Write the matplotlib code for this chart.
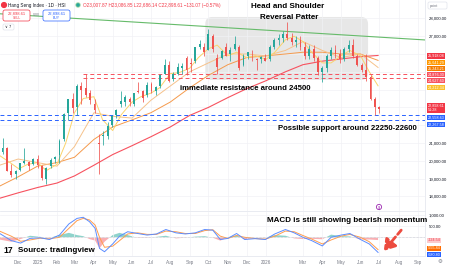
import matplotlib
matplotlib.use("Agg")
import matplotlib.pyplot as plt
import matplotlib.dates as mdates
import matplotlib.transforms as mtransforms
from matplotlib.patches import FancyBboxPatch, FancyArrowPatch
import numpy as np
import pandas as pd

plt.rcParams["font.family"] = ["Liberation Sans", "DejaVu Sans"]

# ---- weekly candles (Hang Seng Index) ----
OPEN = [20600, 20500, 20700, 19450, 19250, 19500, 19900, 19950, 19800, 20100,
        19700, 19000, 19700, 20100, 20300, 21200, 22700, 23500, 23000, 24200,
        24100, 23800, 23200, 21000, 21400, 21400, 22000, 22600, 23200, 23300,
        23500, 23200, 23900, 23900, 23700, 24300, 23900, 24200, 24900, 25400,
        24600, 24900, 25200, 25800, 25500, 25600, 26400, 26400, 26200, 27000,
        25800, 25800, 26400, 26000, 26300, 26400, 25400, 25900, 26000, 25700,
        25700, 25800, 25700, 26400, 26800, 26900, 27100, 26900, 26700, 26800,
        26400, 25900, 26300, 25800, 25000, 25200, 25900, 26200, 26000, 25700,
        26300, 26500, 25900, 25400, 25100, 24700, 23500, 23008]
HIGH = [20800, 21300, 20750, 19800, 19500, 19900, 20700, 20000, 20150, 20300,
        19750, 19650, 20150, 20250, 21200, 22700, 23500, 23800, 24300, 24400,
        24870, 24000, 23500, 21500, 21700, 22200, 22600, 22900, 23900, 23700,
        23600, 23800, 24400, 24000, 24400, 24400, 24200, 24900, 25700, 25600,
        25000, 25500, 25500, 25900, 25800, 26400, 26800, 26600, 27380, 27100,
        26000, 26200, 26600, 26400, 27000, 26500, 26000, 26100, 26200, 25800,
        25900, 26000, 26500, 26900, 27100, 27300, 27800, 27200, 27000, 27000,
        26700, 26500, 26500, 25900, 25300, 26000, 26400, 26500, 26300, 26400,
        26800, 26850, 26000, 25500, 26000, 24800, 23600, 23087]
LOW = [20200, 20400, 19400, 19100, 18990, 19400, 19800, 19500, 19750, 19600,
       18900, 18670, 19600, 19900, 19900, 21100, 22300, 22700, 22600, 23200,
       23600, 23200, 22700, 19260, 20900, 21200, 21900, 22400, 23000, 23100,
       23100, 23100, 23800, 23300, 23600, 23800, 23700, 24100, 24900, 24400,
       24500, 24800, 24900, 24800, 25000, 25500, 26300, 25900, 26200, 26100,
       24900, 25700, 25900, 25600, 26200, 25100, 25300, 25700, 25600, 25100,
       25500, 25600, 25600, 26300, 26500, 26700, 26800, 26500, 26400, 26200,
       25700, 25700, 25600, 24800, 24400, 25000, 25700, 25800, 25500, 25600,
       26100, 25800, 25300, 25000, 24500, 23400, 22600, 22686]
CLOSE = [20500, 20730, 19430, 19230, 19420, 19870, 19970, 19720, 20090, 19760,
         19060, 19580, 20070, 20220, 21130, 22620, 23480, 22940, 24230, 23960,
         23690, 23430, 22850, 20920, 21400, 21980, 22500, 22870, 23350, 23600,
         23290, 23790, 23890, 23530, 24280, 23920, 24140, 24830, 25390, 24510,
         24860, 25270, 25340, 25080, 25420, 26390, 26550, 26130, 27140, 26290,
         25250, 26160, 25910, 26240, 26570, 25220, 25860, 26090, 25980, 25690,
         25820, 25630, 26400, 26800, 26900, 27100, 26900, 26700, 26800, 26400,
         25900, 26300, 25800, 25000, 25200, 25900, 26200, 26000, 25700, 26300,
         26500, 25900, 25400, 25100, 24700, 23500, 23000, 22898.61]
WEEKS = pd.date_range("2024-10-30", periods=len(CLOSE), freq="7D")

# ---- moving averages ----
MA_DATES = pd.to_datetime([
    "2024-10-28", "2024-12-01", "2025-01-01", "2025-02-01", "2025-03-01",
    "2025-04-01", "2025-05-01", "2025-06-01", "2025-07-01", "2025-08-01",
    "2025-09-01", "2025-10-01", "2025-11-01", "2025-12-01", "2026-01-01",
    "2026-02-01", "2026-03-01", "2026-04-01", "2026-05-01", "2026-06-01",
    "2026-06-29"])
MA200 = [17850, 18200, 18500, 18750, 19150, 19750, 20350, 20850, 21350, 21900,
         22550, 23000, 23550, 24050, 24500, 25000, 25400, 25600, 25720, 25850,
         25918.08]
MA100 = [18500, 19100, 19700, 19900, 20200, 21200, 21900, 22300, 22700, 23300,
         24100, 24800, 25400, 25800, 25900, 26000, 26100, 26100, 26000, 26000,
         25641.29]
MA50 = [19700, 20100, 19900, 19700, 20800, 22700, 22500, 22400, 23400, 24200,
        25000, 25500, 26000, 26000, 25900, 26200, 26700, 26200, 25800, 26000,
        25243.21]
MA20_DATES = pd.to_datetime([
    "2024-10-28", "2024-11-18", "2024-12-02", "2024-12-16", "2025-01-01",
    "2025-01-15", "2025-02-01", "2025-02-15", "2025-03-01", "2025-03-15",
    "2025-04-01", "2025-04-15", "2025-05-01", "2025-05-15", "2025-06-01",
    "2025-06-15", "2025-07-01", "2025-07-15", "2025-08-01", "2025-08-15",
    "2025-09-01", "2025-09-15", "2025-10-01", "2025-10-15", "2025-11-01",
    "2025-11-15", "2025-12-01", "2025-12-15", "2026-01-01", "2026-01-15",
    "2026-02-01", "2026-02-15", "2026-03-01", "2026-03-15", "2026-04-01",
    "2026-04-15", "2026-05-01", "2026-05-15", "2026-06-01", "2026-06-15",
    "2026-06-29"])
MA20 = [20400, 19900, 19550, 19800, 19900, 19450, 19800, 21000, 22700, 23500,
        23600, 22300, 21700, 22600, 23300, 23600, 23800, 24100, 24900, 24950,
        25200, 25800, 26300, 26500, 25900, 26100, 25800, 25900, 25700, 26100,
        26800, 27000, 26700, 26100, 25500, 25500, 25900, 26200, 25900, 25000,
        24212.34]

# ---- horizontal levels and trendline ----
RESIST = [24876.30, 24627.60]
RESIST_FROM = ["2025-03-15", "2025-03-15"]
SUPPORT = [22558.63, 22267.58]
TREND_DATES = pd.to_datetime(["2024-10-28", "2026-09-12"])
TREND_VALUES = [28270, 26790]

# ---- MACD (12, 26, 9) ----
MACD_DATES = pd.to_datetime([
    "2024-10-28", "2024-11-20", "2024-12-05", "2024-12-20", "2025-01-05",
    "2025-01-20", "2025-02-05", "2025-02-20", "2025-03-05", "2025-03-15",
    "2025-03-25", "2025-04-03", "2025-04-10", "2025-04-18", "2025-05-01",
    "2025-05-12", "2025-05-25", "2025-06-10", "2025-06-25", "2025-07-10",
    "2025-07-25", "2025-08-10", "2025-08-25", "2025-09-10", "2025-09-25",
    "2025-10-08", "2025-10-20", "2025-11-01", "2025-11-15", "2025-11-28",
    "2025-12-15", "2025-12-31", "2026-01-15", "2026-02-01", "2026-02-15",
    "2026-03-01", "2026-03-15", "2026-04-01", "2026-04-15", "2026-05-01",
    "2026-05-15", "2026-06-01", "2026-06-15", "2026-06-29"])
MACD = [250, -150, -260, -50, -20, -100, 100, 600, 850, 900, 700, 400, -500,
        -650, -300, 50, 250, 170, 100, 150, 350, 200, 150, 200, 350, 320, -100,
        -50, 170, -100, -60, -100, 150, 350, 200, 0, -150, -390, 0, 100, 170,
        -100, -300, -680.80]
SIGNAL = [330, 50, -180, -120, -40, -70, 0, 400, 750, 850, 780, 550, 0, -450,
          -400, -150, 150, 200, 130, 130, 280, 250, 170, 170, 300, 340, 50, -50,
          80, 0, -60, -80, 50, 280, 250, 80, -80, -300, -120, 50, 130, 0, -200,
          -555.84]
HIST = [-80, -200, -80, 70, 20, -30, 100, 200, 100, 50, -80, -150, -500, -200,
        100, 200, 100, -30, -30, 20, 70, -50, -20, 30, 50, -20, -150, 0, 90,
        -100, 0, -20, 100, 70, -50, -80, -70, -90, 120, 50, 40, -100, -100,
        -124.54]

PRICE_TICKS = list(range(18000, 28001, 1000))
# labels that the price tags cover are left blank
PRICE_TICK_LABELS = ["18,000.00", "19,000.00", "20,000.00", "21,000.00", "", "",
                     "", "", "", "27,000.00", "28,000.00"]
MONTHS = ["2024-12-01", "2025-01-01", "2025-02-01", "2025-03-01", "2025-04-01",
          "2025-05-01", "2025-06-01", "2025-07-01", "2025-08-01", "2025-09-01",
          "2025-10-01", "2025-11-01", "2025-12-01", "2026-01-01", "2026-03-01",
          "2026-04-01", "2026-05-01", "2026-06-01", "2026-07-01", "2026-08-01",
          "2026-09-01"]
MONTH_LABELS = ["Dec", "2025", "Feb", "Mar", "Apr", "May", "Jun", "Jul", "Aug",
                "Sep", "Oct", "Nov", "Dec", "2026", "Mar", "Apr", "May", "Jun",
                "Jul", "Aug", "Sep"]

UP, DOWN = "#26a69a", "#ef5350"
TXT = "#131722"
GRID = "#f1f2f5"

W, H = 450, 266
fig = plt.figure(figsize=(W / 100, H / 100), dpi=100)
# reference-pixel transform for chrome (x right, y down)
PX = mtransforms.Affine2D().scale(1 / W, -1 / H).translate(0, 1) + fig.transFigure

ax = fig.add_axes([0, 1 - 211 / H, 425 / W, 211 / H])
mx = fig.add_axes([0, 1 - 256 / H, 425 / W, 44 / H], sharex=ax)

d = mdates.date2num
xw = d(WEEKS)
o, h, l, c = map(np.asarray, (OPEN, HIGH, LOW, CLOSE))
col = np.where(c >= o, UP, DOWN)

# --- head & shoulder zone ---
x0, x1 = d(pd.Timestamp("2025-09-26")), d(pd.Timestamp("2026-06-13"))
y0, y1 = 24540, 28080
ax.add_patch(FancyBboxPatch((x0, y0), x1 - x0, y1 - y0,
                            boxstyle="round,pad=0,rounding_size=11",
                            mutation_aspect=35, fc="#e7e7e7", ec="none",
                            zorder=0.5))

# --- candles ---
ax.vlines(xw, l, h, colors=col, lw=0.55, zorder=3)
ax.bar(xw, np.maximum(np.abs(c - o), 25), bottom=np.minimum(o, c), width=3.0,
       color=col, lw=0, zorder=3)

# --- moving averages ---
ax.plot(d(MA_DATES), MA200, color="#f7525f", lw=0.8, zorder=2)
ax.plot(d(MA_DATES), MA100, color="#f59a4c", lw=0.7, zorder=2)
ax.plot(d(MA_DATES), MA50, color="#f6c28b", lw=0.7, zorder=2)
ax.plot(d(MA20_DATES), MA20, color="#fbd36b", lw=0.7, zorder=2)

# --- levels ---
xmax = d(pd.Timestamp("2026-09-12"))
for v, start in zip(RESIST, RESIST_FROM):
    ax.hlines(v, d(pd.Timestamp(start)), xmax, colors="#f7525f", lw=0.7,
              linestyles=(0, (4, 3)), zorder=2)
for v in SUPPORT:
    ax.axhline(v, color="#2962ff", lw=0.7, ls=(0, (4, 3)), zorder=2)
ax.plot(d(TREND_DATES), TREND_VALUES, color="#66bb6a", lw=0.8, zorder=2)

ax.set_xlim(d(pd.Timestamp("2024-11-02")), xmax)
ax.set_ylim(17180, 29034)
ax.yaxis.tick_right()
ax.set_yticks(PRICE_TICKS)
ax.set_yticklabels(PRICE_TICK_LABELS)
ax.tick_params(axis="y", length=0, labelsize=3.1, labelcolor=TXT, pad=2.5)
ax.tick_params(axis="x", length=0, labelbottom=False)
ax.set_xticks(d(pd.to_datetime(MONTHS)))
ax.grid(True, color=GRID, lw=0.5)

# --- MACD pane ---
xm = d(MACD_DATES)
hist = np.asarray(HIST, float)
mx.fill_between(xm, hist, 0, where=hist >= 0, interpolate=True,
                color="#8fd3cb", lw=0)
mx.fill_between(xm, hist, 0, where=hist < 0, interpolate=True,
                color="#f9aeb2", lw=0)
mx.plot(xm, SIGNAL, color="#ff9d4d", lw=0.7)
mx.plot(xm, MACD, color="#5b8cff", lw=0.7)
mx.axhline(0, color="#b0b3bb", lw=0.4, ls=(0, (1, 1.5)))
mx.set_ylim(-842, 1138)
mx.yaxis.tick_right()
mx.set_yticks([0, 500, 1000])
mx.set_yticklabels(["", "500.00", "1,000.00"])
mx.tick_params(axis="y", length=0, labelsize=3.1, labelcolor=TXT, pad=2.5)
mx.set_xticks(d(pd.to_datetime(MONTHS)))
mx.set_xticklabels(MONTH_LABELS)
mx.tick_params(axis="x", length=0, labelsize=3.3, labelcolor="#787b86", pad=3)
mx.grid(True, color=GRID, lw=0.5)

for a in (ax, mx):
    for side, s in a.spines.items():
        s.set_visible(side in ("right", "bottom"))
        s.set_color("#e0e3eb")
        s.set_linewidth(0.5)


def tag(axis, value, text, fc, tc="white", dy=0.0):
    tr = mtransforms.blended_transform_factory(axis.transAxes, axis.transData)
    axis.annotate(text, xy=(1.0, value), xycoords=tr, xytext=(2.2, dy),
                  textcoords="offset points", ha="left", va="center",
                  fontsize=2.7, color=tc, annotation_clip=False, zorder=10,
                  linespacing=1.0,
                  bbox=dict(boxstyle="square,pad=0.15", fc=fc, ec="none"))


# stacked right-hand price tags (dy nudges keep them from overlapping)
tag(ax, MA200[-1], f"{MA200[-1]:,.2f}", "#f23645", dy=-0.4)
tag(ax, MA100[-1], f"{MA100[-1]:,.2f}", "#ff9800", dy=-1.3)
tag(ax, MA50[-1], f"{MA50[-1]:,.2f}", "#f57c00", dy=-0.5)
tag(ax, RESIST[0], f"{RESIST[0]:,.2f}", "#f7525f", dy=-0.6)
tag(ax, RESIST[1], f"{RESIST[1]:,.2f}", "#f7525f", dy=-1.8)
tag(ax, MA20[-1], f"{MA20[-1]:,.2f}", "#fbc02d", dy=-0.9)
tag(ax, CLOSE[-1], "22,898.61\n51:28", "#f23645", dy=0.9)
tag(ax, SUPPORT[0], f"{SUPPORT[0]:,.2f}", "#2962ff", dy=-1.9)
tag(ax, SUPPORT[1], f"{SUPPORT[1]:,.2f}", "#2962ff", dy=-3.0)
tag(mx, HIST[-1], f"{HIST[-1]:,.2f}", "#fccbcd", tc="#f23645", dy=-0.3)
tag(mx, SIGNAL[-1], f"{SIGNAL[-1]:,.2f}", "#ff6d00", dy=1.0)
tag(mx, MACD[-1], f"{MACD[-1]:,.2f}", "#2962ff", dy=-1.6)

# --- header / chrome (reference pixel coords) ---
fig.add_artist(plt.Circle((4, 5), 2.4, transform=PX, color="#f23645"))
fig.text(8, 5.3, "Hang Seng Index · 1D · HSI", transform=PX, fontsize=3.3,
         color=TXT, va="center")
fig.add_artist(plt.Circle((78, 5), 2.0, transform=PX, color="#a5d6a7"))
fig.add_artist(plt.Circle((78, 5), 1.1, transform=PX, color="#26a69a"))
fig.text(83, 5.3, "O23,007.87 H23,086.85 L22,686.14 C22,898.61 −131.07 (−0.57%)",
         transform=PX, fontsize=3.3, color="#f23645", va="center")
for bx, ec, lab in ((3, "#f23645", "SELL"), (43, "#2962ff", "BUY")):
    fig.add_artist(FancyBboxPatch((bx, 10), 27, 11, transform=PX,
                                  boxstyle="round,pad=0,rounding_size=2",
                                  fc="white", ec=ec, lw=0.5))
    fig.text(bx + 13.5, 13.8, "22,898.61", transform=PX, fontsize=3.0,
             color=ec, ha="center", va="center")
    fig.text(bx + 13.5, 18.3, lab, transform=PX, fontsize=2.4, color=ec,
             ha="center", va="center")
fig.text(36.5, 15.5, "0.00", transform=PX, fontsize=2.6, color="#787b86",
         ha="center", va="center")
fig.add_artist(FancyBboxPatch((3, 24), 11, 6, transform=PX,
                              boxstyle="round,pad=0,rounding_size=1.5",
                              fc="white", ec="#e0e3eb", lw=0.5))
fig.text(8.5, 27.2, "∨ 7", transform=PX, fontsize=2.8, color=TXT,
         ha="center", va="center")
fig.add_artist(FancyBboxPatch((428, 2), 19, 7, transform=PX,
                              boxstyle="round,pad=0,rounding_size=1.5",
                              fc="white", ec="#e0e3eb", lw=0.5))
fig.text(430, 5.6, "point", transform=PX, fontsize=2.8, color="#787b86",
         va="center")
fig.add_artist(plt.Circle((379, 207), 2.6, transform=PX, fc="white",
                          ec="#9c27b0", lw=0.6))
fig.text(379, 207.3, "$", transform=PX, fontsize=2.8, color="#9c27b0",
         ha="center", va="center")
fig.text(440, 261.5, "⚙", transform=PX, fontsize=4, color="#787b86",
         ha="center", va="center", family="DejaVu Sans")

# --- annotations ---
bold = dict(transform=PX, fontweight="bold", color="black", va="center")
fig.text(288, 6.5, "Head and Shoulder", fontsize=5.8, ha="center", **bold)
fig.text(289, 17.5, "Reversal Patter", fontsize=5.8, ha="center", **bold)
fig.text(180, 88, "immediate resistance around 24500", fontsize=5.6,
         ha="left", **bold)
fig.text(278, 128.5, "Possible support around 22250-22600", fontsize=5.6,
         ha="left", **bold)
fig.text(267, 221, "MACD is still showing bearish momentum", fontsize=5.8,
         ha="left", **bold)
fig.text(3, 250.5, "17", fontsize=6.2, ha="left", **bold)
fig.text(18, 250.5, "Source: tradingview", fontsize=5.8, ha="left", **bold)
fig.add_artist(FancyArrowPatch(
    (403, 228), (382, 253), transform=PX,
    arrowstyle="-|>,head_length=4,head_width=2.6", mutation_scale=1.6,
    color="#ec4b3f", lw=2.0, linestyle=(0, (2, 1.2))))

fig.savefig("out.png", dpi=100)
